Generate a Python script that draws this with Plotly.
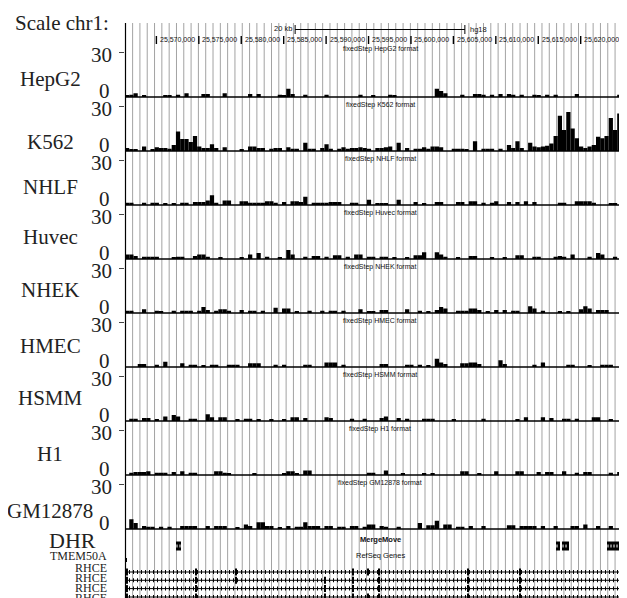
import plotly.graph_objects as go

# ---------------- data ----------------
X0, X1 = 25561300, 25621400          # visible window on chr1 (hg18)
STEP = 500                           # fixedStep span (bp)

track_names = ["HepG2", "K562", "NHLF", "Huvec", "NHEK", "HMEC", "HSMM", "H1", "GM12878"]

# (bin index, signal) pairs, bin = fixedStep index from X0
hepg2 = [(0,1),(1,1.5),(2,2.5),(4,1),(9,1),(10,1),(12,1.5),(14,2.5),(18,2),(19,2),(23,2.5),(29,2),(31,2),
         (36,1.5),(37,1),(38,5.5),(39,2),(42,1.5),(47,1.5),(55,1.5),(58,1),(62,1.5),(63,1),(73,5.5),(74,4),
         (75,2.5),(79,1.5),(82,2),(83,2),(84,1.5),(86,1.5),(88,2),(90,2),(91,1.5),(93,1.5),(96,1.5),(97,1),
         (99,1.5),(101,1.5),(106,2),(116,1.5),(117,1.5)]
k562 = [(0,2),(1,1),(2,1),(4,3),(6,1),(7,2.5),(8,2),(9,2),(10,1.5),(11,4),(12,13),(13,8),(14,8),(15,6),
        (16,10),(17,3),(18,2),(19,2),(20,4.5),(21,2),(23,2.5),(27,1),(29,3),(30,3),(31,2),(32,2),(34,1.5),
        (35,2),(36,2),(38,2.5),(39,1.5),(40,1.5),(42,5.5),(43,1.5),(44,1.5),(46,2),(47,4.5),(48,1.5),(50,1.5),
        (51,2.5),(52,1.5),(53,2),(54,2),(55,2.5),(56,2),(57,1.5),(59,2),(60,2),(61,2.5),(62,3),(64,5.5),(66,2),
        (68,1.5),(69,1.5),(70,2.5),(71,1.5),(72,3),(73,3),(74,2.5),(77,1.5),(78,1.5),(79,1.5),(80,1),(82,6.5),
        (84,1.5),(85,1.5),(86,1.5),(88,1.5),(90,4),(91,2),(92,6.5),(93,2),(95,5.5),(96,3),(97,2.5),(98,3),
        (99,3.5),(100,5),(101,10),(102,23.5),(103,14),(104,26),(105,15),(106,8.5),(107,3),(108,2),(109,3),
        (110,4),(111,9.5),(112,8.5),(113,10),(114,22),(115,14),(116,25),(117,17),(118,12),(119,8),(120,5)]
nhlf = [(0,1.5),(1,1.5),(4,1.5),(6,1.5),(7,1.5),(9,1),(11,1),(13,1.5),(14,1.5),(16,2),(17,2),(18,2),(19,3),
        (20,6.5),(21,1.5),(23,3),(24,3),(27,2.5),(28,2.5),(29,1.5),(30,1.5),(31,1.5),(32,1.5),(33,2.5),(34,2.5),
        (35,1.5),(37,2),(39,2.5),(40,2.5),(41,2),(42,5.5),(44,1.5),(45,1.5),(46,1.5),(47,1.5),(48,2),(49,2),
        (50,2),(53,1.5),(54,1.5),(57,3.5),(59,1),(60,1),(61,1),(64,3.5),(68,2),(70,1),(73,2),(74,2),(78,2),
        (79,2),(81,2.5),(82,2.5),(84,1.5),(86,1.5),(87,2.5),(90,2),(92,2),(94,2.5),(96,2),(102,1.5),(103,1.5),
        (106,2.5),(107,2.5),(108,2.5),(109,2.5),(110,1.5),(114,1),(115,1),(117,1),(119,1.5)]
huvec = [(0,3),(1,3),(2,2),(4,1.5),(5,1.5),(6,1.5),(7,1.5),(11,1),(12,1.5),(13,1.5),(16,2),(17,3),(18,3),
         (19,1.5),(22,1),(27,1),(29,3),(31,4),(33,1.5),(36,1),(38,6),(39,3),(42,1.5),(44,2),(45,2),(47,1.5),
         (49,2.5),(50,2.5),(52,1.5),(54,3),(55,3),(57,1.5),(58,1.5),(60,1.5),(61,1.5),(63,1),(66,1),(68,2.5),
         (69,2.5),(70,4.5),(73,4.5),(74,3),(75,1.5),(78,1),(81,2),(82,2),(86,1),(89,1),(92,2.5),(93,2.5),
         (96,1.5),(97,1.5),(101,1.5),(102,2),(103,1.5),(105,3),(109,1.5),(111,4),(112,3),(115,1.5),(118,1)]
nhek = [(0,1.5),(1,1.5),(4,2.5),(7,1.5),(8,1),(11,1.5),(13,1.5),(14,1.5),(15,1.5),(17,1.5),(18,4),(19,2),
        (21,1.5),(22,2.5),(23,2.5),(24,1.5),(27,2),(29,1.5),(30,1.5),(32,1.5),(35,3.5),(37,3),(38,3),(40,1),
        (43,1.5),(46,1.5),(48,1.5),(49,1.5),(51,1.5),(55,2.5),(57,1),(58,1),(60,2),(61,2),(66,2.5),(69,1.5),
        (71,1),(73,2),(74,4),(75,3),(78,1.5),(79,1.5),(80,1.5),(81,3),(82,3),(83,2),(85,1),(87,2),(89,2),
        (91,1.5),(92,1.5),(95,4.5),(96,3),(98,1.5),(102,1),(104,1),(107,2.5),(108,4.5),(109,3),(111,2),
        (112,2),(113,2),(118,1)]
hmec = [(3,2),(4,2),(7,1.5),(9,3.5),(13,2.5),(15,1.5),(16,1.5),(18,1),(20,1.5),(21,1.5),(24,1.5),(25,1.5),
        (26,1.5),(29,2.5),(30,2.5),(31,2.5),(35,1.5),(37,1.5),(42,1.5),(43,1.5),(47,3),(48,3),(49,3),(51,1.5),
        (60,2),(61,2),(66,1.5),(67,1.5),(69,1.5),(71,1),(73,5.5),(74,3),(75,2),(79,2.5),(80,2.5),(81,3),
        (82,3),(83,2),(88,4.5),(89,2),(96,1.5),(98,3),(104,1.5),(105,1.5),(109,1),(112,1.5),(113,1.5),(114,1.5)]
hsmm = [(1,1.5),(2,1.5),(4,2),(5,2),(7,1),(9,3),(11,4),(12,3),(15,1.5),(16,1.5),(19,4.5),(20,2.5),(22,2.5),
        (23,2.5),(26,1),(28,1.5),(29,1.5),(31,1),(34,1),(37,1),(39,2.5),(40,2.5),(42,2),(47,2.5),(48,2),
        (53,1.5),(56,1.5),(60,2),(61,3),(64,2),(66,1.5),(70,1.5),(71,1.5),(72,1.5),(77,1),(84,1.5),(92,1),
        (94,2.5),(98,2.5),(100,2),(103,1.5),(104,1.5),(106,1.5),(110,2.5),(111,2.5),(114,1),(118,4)]
h1 = [(1,1.5),(2,2),(3,2),(4,2),(5,2.5),(7,1.5),(8,1.5),(9,1.5),(11,2),(13,2.5),(15,1.5),(16,1.5),(21,2.5),
      (22,2.5),(23,1.5),(24,1),(30,1),(37,1),(38,2.5),(39,2.5),(40,1),(42,3),(43,3),(57,1.5),(58,1.5),(61,3),
      (65,1),(70,1),(72,1),(79,2.5),(80,2.5),(83,1),(87,2.5),(92,2.5),(93,2.5),(97,2),(99,2),(100,2),(103,2.5),
      (106,1.5),(108,2),(109,2),(114,1.5),(116,2),(117,2.5),(118,2),(119,2.5)]
gm12878 = [(1,6.5),(2,4),(4,2),(5,1.5),(6,1.5),(8,1.5),(10,1.5),(13,2),(14,2),(15,2),(16,2),(19,2),(21,2),
           (22,2),(23,2),(26,1),(28,3),(29,2),(31,4.5),(32,4.5),(33,2),(34,2),(36,1),(38,2),(40,1.5),(41,1.5),
           (42,4.5),(43,2),(44,2),(45,2),(47,2),(48,2),(50,1.5),(51,1.5),(53,2),(54,2),(56,1.5),(57,3),(58,3),
           (60,2),(61,1.5),(64,1.5),(69,4),(71,2.5),(72,2.5),(73,5.5),(75,3),(76,3),(78,1.5),(79,1.5),(81,2),
           (84,2),(90,2.5),(91,2.5),(93,2),(94,2),(95,2),(96,2),(98,2),(101,2),(105,2),(106,2),(108,3),(111,2),
           (114,2),(117,2),(118,4),(119,3)]
tracks = [hepg2, k562, nhlf, huvec, nhek, hmec, hsmm, h1, gm12878]

ruler_ticks = [25565000, 25570000, 25575000, 25580000, 25585000, 25590000,
               25595000, 25600000, 25605000, 25610000, 25615000, 25620000]
scale_bar = [25581350, 25601350]     # 20 kb

dhr_start = [25567310, 25612090, 25612800, 25618100]
dhr_end   = [25567900, 25612560, 25613620, 25620340]
tmem50a = [25561300, 25561520]
rhce_span = [25561300, 25619840]
rhce_exons = [
    [(25561300,25561650),(25569570,25569770),(25574280,25574480),(25588070,25588270),(25589840,25590040),
     (25591130,25591330),(25601620,25601820),(25607750,25607950),(25619560,25619840)],
    [(25561300,25561650),(25569570,25569770),(25574280,25574480),(25584770,25584970),(25588070,25588270),
     (25591130,25591330),(25601620,25601820),(25607750,25607950),(25619560,25619840)],
    [(25561300,25561650),(25569570,25569770),(25584770,25584970),(25588070,25588270),
     (25591130,25591330),(25601620,25601820),(25607750,25607950),(25619560,25619840)],
    [(25561300,25561650),(25569570,25569770),(25584770,25584970),(25588070,25588270),(25589840,25590040),
     (25591130,25591330),(25601620,25601820),(25607750,25607950),(25619560,25619840)],
]

# ---------------- layout helpers ----------------
W, H = 627, 598
LEFT = 117
TRACK_H = 45
BASE = [89 + 54 * k for k in range(9)]            # pixel row of each baseline
NAME_DY = [-18, -9, -17.5, -22, -23.5, -21.5, -23, -21, -18]
LANE = {"dhr": 538, "tmem": 552, "rhce": [564, 572.3, 580.6, 589]}
SERIF = "Liberation Serif, Tinos, Times New Roman, DejaVu Serif, serif"
SANS = "Liberation Sans Narrow, Liberation Sans, Arial, sans-serif"
INK = "#222"


def xp(px):
    return px / W


def yp(py):
    return 1 - py / H


fig = go.Figure()
layout_axes = {}
shapes = []
ann = []


def label(text, px, py, size, anchor="center", family=SERIF):
    ann.append(dict(text=text, x=xp(px), y=yp(py), xref="paper", yref="paper", showarrow=False,
                    xanchor=anchor, yanchor="middle", font=dict(family=family, size=size, color=INK)))


for k, (name, trk) in enumerate(zip(track_names, tracks)):
    ax = "y" if k == 0 else f"y{k+1}"
    key = "yaxis" if k == 0 else f"yaxis{k+1}"
    bins = [b for b, _ in trk]
    vals = [v for _, v in trk]
    centers = [X0 + (b + 0.5) * STEP for b in bins]
    fig.add_trace(go.Bar(x=centers, y=vals, width=STEP, xaxis="x", yaxis=ax,
                         marker=dict(color="black", line=dict(width=0)), showlegend=False,
                         hoverinfo="skip"))
    b = BASE[k]
    layout_axes[key] = dict(domain=[yp(b), yp(b - TRACK_H)], range=[0, 30], anchor="x",
                            showgrid=False, zeroline=False, showticklabels=False,
                            ticks="outside", tickvals=[30], ticklen=5, tickwidth=1,
                            tickcolor="#444", showline=False, fixedrange=True)
    shapes.append(dict(type="line", xref="paper", yref="paper", x0=xp(LEFT), x1=1,
                       y0=yp(b), y1=yp(b), line=dict(color="black", width=1.6)))
    label(name, 42, b + NAME_DY[k], 21)
    label("30", 93, b - 42, 21)
    label("0", 96, b - 6, 21)
    title_y = 41 if k == 0 else BASE[k - 1] + 8
    ann.append(dict(text=f"fixedStep {name} format", x=0.5, y=yp(title_y), xref="x domain",
                    yref="paper", showarrow=False, xanchor="center", yanchor="middle",
                    font=dict(family=SANS, size=7, color="#111")))

# ---------------- gene / DHR panel ----------------
layout_axes["yaxis10"] = dict(domain=[yp(598), yp(522)], range=[598, 522], anchor="x",
                              visible=False, fixedrange=True)

fig.add_trace(go.Bar(orientation="h", base=dhr_start, x=[e - s for s, e in zip(dhr_start, dhr_end)],
                     y=[LANE["dhr"]] * len(dhr_start), width=9, xaxis="x", yaxis="y10",
                     marker=dict(color="black", line=dict(width=0)), showlegend=False, hoverinfo="skip"))
for s, e in zip(dhr_start, dhr_end):
    fig.add_trace(go.Scatter(x=[s + 60, e - 60], y=[LANE["dhr"]] * 2, mode="lines", xaxis="x", yaxis="y10",
                             line=dict(color="white", width=3, dash="1px,2px"), showlegend=False,
                             hoverinfo="skip"))
fig.add_trace(go.Bar(orientation="h", base=[tmem50a[0]], x=[tmem50a[1] - tmem50a[0]],
                     y=[LANE["tmem"]], width=4, xaxis="x", yaxis="y10",
                     marker=dict(color="black", line=dict(width=0)), showlegend=False, hoverinfo="skip"))

for r, exons in enumerate(rhce_exons):
    lane = LANE["rhce"][r]
    fig.add_trace(go.Scatter(x=rhce_span, y=[lane, lane], mode="lines", xaxis="x", yaxis="y10",
                             line=dict(color="black", width=1), showlegend=False, hoverinfo="skip"))
    fig.add_trace(go.Scatter(x=rhce_span, y=[lane, lane], mode="lines", xaxis="x", yaxis="y10",
                             line=dict(color="black", width=4, dash="1px,3px"), showlegend=False,
                             hoverinfo="skip"))
    fig.add_trace(go.Bar(orientation="h", base=[s for s, _ in exons], x=[e - s for s, e in exons],
                         y=[lane] * len(exons), width=7, xaxis="x", yaxis="y10",
                         marker=dict(color="black", line=dict(width=0)), showlegend=False,
                         hoverinfo="skip"))

label("DHR", 64, 532, 22)
label("TMEM50A", 101, 548, 12, anchor="right")
for py in [559.5, 569.5, 579.5, 589.5]:
    label("RHCE", 101, py, 12, anchor="right")
ann.append(dict(text="<b>MergeMove</b>", x=0.5, y=yp(531), xref="x domain", yref="paper",
                showarrow=False, xanchor="center", yanchor="middle",
                font=dict(family=SANS, size=7.5, color="#111")))
ann.append(dict(text="RefSeq Genes", x=0.5, y=yp(547), xref="x domain", yref="paper",
                showarrow=False, xanchor="center", yanchor="middle",
                font=dict(family=SANS, size=7.5, color="#111")))

# ---------------- ruler ----------------
label("Scale chr1:", 54, 15, 21)
for i, t in enumerate(ruler_ticks):
    shapes.append(dict(type="line", xref="x", yref="paper", x0=t, x1=t, y0=yp(36), y1=yp(28),
                       line=dict(color="black", width=1.4)))
    if i > 0:
        ann.append(dict(text=f"{t:,}", x=t, y=yp(32), xref="x", yref="paper", showarrow=False,
                        xanchor="right", yanchor="middle", xshift=-2,
                        font=dict(family=SANS, size=7, color="#111")))
shapes.append(dict(type="line", xref="x", yref="paper", x0=scale_bar[0], x1=scale_bar[1],
                   y0=yp(21.5), y1=yp(21.5), line=dict(color="black", width=1)))
for sx in scale_bar:
    shapes.append(dict(type="line", xref="x", yref="paper", x0=sx, x1=sx, y0=yp(26), y1=yp(17),
                       line=dict(color="black", width=1)))
ann.append(dict(text="20 kb", x=scale_bar[0], y=yp(21), xref="x", yref="paper", showarrow=False,
                xanchor="right", yanchor="middle", xshift=-1, font=dict(family=SANS, size=7.5, color="#111")))
ann.append(dict(text="hg18", x=scale_bar[1], y=yp(22), xref="x", yref="paper", showarrow=False,
                xanchor="left", yanchor="middle", xshift=3, font=dict(family=SANS, size=7.5, color="#111")))

# ---------------- guidelines & border ----------------
g = 117.3 + 7.31
while g < W:
    shapes.append(dict(type="line", xref="paper", yref="paper", x0=xp(g), x1=xp(g), y0=0, y1=yp(15),
                       line=dict(color="#a3a3a3", width=1), layer="below"))
    g += 7.31
shapes.append(dict(type="line", xref="paper", yref="paper", x0=xp(LEFT + 0.5), x1=xp(LEFT + 0.5),
                   y0=0, y1=yp(15), line=dict(color="black", width=1.2)))

fig.update_layout(
    width=W, height=H, margin=dict(l=0, r=0, t=0, b=0),
    paper_bgcolor="white", plot_bgcolor="rgba(0,0,0,0)",
    barmode="overlay", showlegend=False,
    xaxis=dict(domain=[xp(LEFT), 1], range=[X0, X1], anchor="y", visible=False, fixedrange=True),
    shapes=shapes, annotations=ann,
    **layout_axes,
)

fig.write_html("out.html")
